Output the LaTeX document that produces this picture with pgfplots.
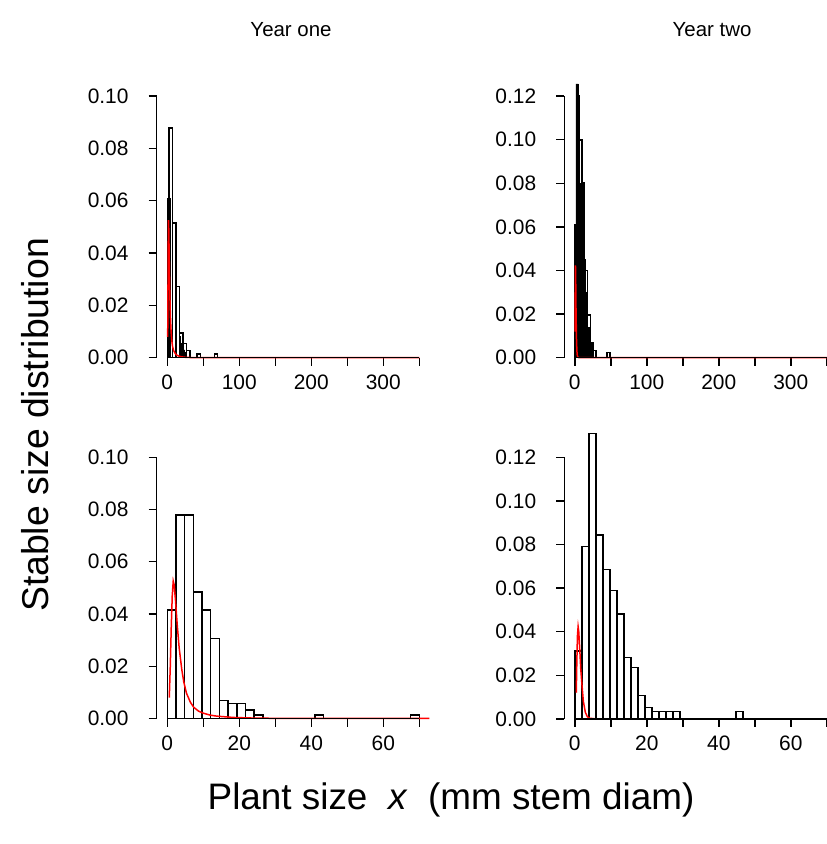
\documentclass[border=0pt]{standalone}
\usepackage{fontspec}
\setmainfont{Liberation Sans}
\usepackage{pgfplots}
\pgfplotsset{compat=1.18}
\usepackage{pgfplotstable}

% bottom-left histogram (Year one), 29 bins of width 70/29
\pgfplotstableread{
x y
0 0.0416
2.414 0.0779
4.828 0.0779
7.241 0.0485
9.655 0.0416
12.069 0.0307
14.483 0.0070
16.897 0.0057
19.310 0.0057
21.724 0.0033
24.138 0.0013
26.552 0
28.966 0
31.379 0
33.793 0
36.207 0
38.621 0
41.034 0.0013
43.448 0
45.862 0
48.276 0
50.690 0
53.103 0
55.517 0
57.931 0
60.345 0
62.759 0
65.172 0
67.586 0.0013
70.0 0
}\histBL

% bottom-right histogram (Year two), bins of width 70/36
\pgfplotstableread{
x y
0 0.0311
1.944 0.079
3.889 0.131
5.833 0.0843
7.778 0.0684
9.722 0.0588
11.667 0.0482
13.611 0.0281
15.556 0.0235
17.5 0.0106
19.444 0.0053
21.389 0.0033
23.333 0.0033
25.278 0.0033
27.222 0.0033
29.167 0
31.111 0
33.056 0
35.0 0
36.944 0
38.889 0
40.833 0
42.778 0
44.722 0.0033
46.667 0
}\histBR

% top-left coarse histogram
\pgfplotstableread{
x y
0 0.05
2.414 0.0877
7.241 0.0514
12.069 0.0271
16.897 0.0095
21.724 0.0055
26.552 0.0027
31.379 0
36.207 0
41.034 0.0014
45.862 0
50.690 0
55.517 0
60.345 0
65.172 0.0014
70.0 0
}\histTL

% top-left dense (black) part
\pgfplotstableread{
x y
0 0.061
4.6 0
16.7 0.008
18.5 0
19.7 0.0055
21.5 0
22.5 0.003
24.3 0
24.8 0.002
26.1 0
}\blackTL

% top-right coarse histogram
\pgfplotstableread{
x y
0 0.061
1.944 0.12
5.833 0.0998
9.722 0.0802
13.611 0.040
17.5 0.0196
21.389 0.0069
25.278 0.0032
29.167 0
33.056 0
36.944 0
40.833 0
44.722 0.0023
48.611 0
}\histTR

% top-right dense (black) part
\pgfplotstableread{
x y
0 0.061
1.65 0.1255
4.86 0.07
6.69 0.080
12.19 0.045
14.94 0.03
17.42 0.014
20.17 0.0067
23.83 0.003
25.67 0
}\blackTR

\pgfplotsset{
  rpanel/.style={
    scale only axis, clip=false,
    axis lines*=left, axis line style={draw=none},
    tick align=outside, major tick length=8bp,
    tick style={black, line width=1.4bp},
    minor tick num=0,
    ymin=0,
    scaled y ticks=false, scaled x ticks=false,
    ticklabel style={font=\fontsize{21}{25}\selectfont, inner sep=0pt},
    /pgf/number format/assume math mode=true,
    y tick label style={/pgf/number format/fixed, /pgf/number format/fixed zerofill, /pgf/number format/precision=2, xshift=-20bp},
    x tick label style={yshift=-9bp},
  },
  toprow/.style={xtick={0,50,...,350}, xticklabels={0,,100,,200,,300,}},
  botrow/.style={xtick={0,10,...,70}, xticklabels={0,,20,,40,,60,}},
  hbar/.style={ybar interval, draw=black, fill=none, line width=1.4bp},
  bbar/.style={ybar interval, draw=black, fill=black, line width=0.6bp},
  redc/.style={red, line width=1.5bp},
}
\tikzset{axl/.style={line width=1.4bp}}

\begin{document}
\begin{tikzpicture}
\path[use as bounding box] (0,0) rectangle (827bp,844bp);

% ---------- top-left ----------
\begin{axis}[rpanel, toprow, at={(156.7bp,486.3bp)}, anchor=south west,
  width=262.6bp, height=261.7bp, xmin=-14.72, xmax=350, ymax=0.10,
  ytick={0,0.02,0.04,0.06,0.08,0.10}]
  \addplot[bbar] table {\blackTL};
  \addplot[hbar] table {\histTL};
  \addplot[redc] coordinates {(0.55,0.008)(0.83,0.020)(1.1,0.035)(1.375,0.047)(1.65,0.0526)(1.925,0.051)(2.29,0.045)(2.75,0.036)(3.3,0.027)(4.03,0.0187)(4.58,0.014)(5.32,0.0097)(6.42,0.0062)(7.33,0.0043)(8.7,0.0028)(10.1,0.002)(11.9,0.0013)(13.75,0.0009)(18.3,0.0004)(22.9,0.0002)(27.5,0.0001)(36.7,0.00003)(70,0)(350,0)};
  \draw[axl] (axis cs:0,0) -- (axis cs:350,0);
  \draw[axl] (axis cs:-14.72,0) -- (axis cs:-14.72,0.10);
\end{axis}

% ---------- top-right ----------
\begin{axis}[rpanel, toprow, at={(564.4bp,486.3bp)}, anchor=south west,
  width=262.4bp, height=261.7bp, xmin=-14.44, xmax=350, ymax=0.12,
  ytick={0,0.02,0.04,0.06,0.08,0.10,0.12}]
  \addplot[bbar] table {\blackTR};
  \addplot[hbar] table {\histTR};
  \addplot[redc] coordinates {(0.41,0.012)(0.55,0.025)(0.73,0.038)(0.92,0.0423)(1.1,0.040)(1.375,0.032)(1.65,0.023)(2.02,0.015)(2.38,0.008)(2.93,0.003)(3.48,0.001)(4.13,0.0003)(5.5,0.00005)(70,0)(350,0)};
  \draw[axl] (axis cs:0,0) -- (axis cs:350,0);
  \draw[axl] (axis cs:-14.44,0) -- (axis cs:-14.44,0.12);
\end{axis}

% ---------- bottom-left ----------
\begin{axis}[rpanel, botrow, at={(156.7bp,125.5bp)}, anchor=south west,
  width=262.6bp, height=261.2bp, xmin=-2.944, xmax=70, ymax=0.10,
  ytick={0,0.02,0.04,0.06,0.08,0.10}]
  \addplot[hbar] table {\histBL};
  \addplot[redc] coordinates {(0.55,0.008)(0.83,0.020)(1.1,0.035)(1.375,0.047)(1.65,0.0526)(1.925,0.051)(2.29,0.045)(2.75,0.036)(3.3,0.027)(4.03,0.0187)(4.58,0.014)(5.32,0.0097)(6.42,0.0062)(7.33,0.0043)(8.7,0.0028)(10.1,0.002)(11.9,0.0013)(13.75,0.0009)(18.3,0.0004)(22.9,0.0002)(27.5,0.0001)(36.7,0.00003)(72.8,0)};
  \draw[axl] (axis cs:0,0) -- (axis cs:70,0);
  \draw[axl] (axis cs:-2.944,0) -- (axis cs:-2.944,0.10);
\end{axis}

% ---------- bottom-right ----------
\begin{axis}[rpanel, botrow, at={(564.4bp,125.1bp)}, anchor=south west,
  width=262.4bp, height=261.6bp, xmin=-2.889, xmax=70, ymax=0.12,
  ytick={0,0.02,0.04,0.06,0.08,0.10,0.12}]
  \addplot[hbar] table {\histBR};
  \addplot[redc] coordinates {(0.41,0.012)(0.55,0.025)(0.73,0.038)(0.92,0.0423)(1.1,0.040)(1.375,0.032)(1.65,0.023)(2.02,0.015)(2.38,0.008)(2.93,0.003)(3.48,0.001)(4.13,0.0003)(5.5,0.00005)(72.8,0)};
  \draw[axl] (axis cs:0,0) -- (axis cs:70,0);
  \draw[axl] (axis cs:-2.889,0) -- (axis cs:-2.889,0.12);
\end{axis}

% titles and labels
\node[font=\fontsize{20.5}{24}\selectfont] at (291bp,814bp) {Year one};
\node[font=\fontsize{20.5}{24}\selectfont] at (712bp,814bp) {Year two};
\node[font=\fontsize{37}{44}\selectfont] at (451bp,44bp) {Plant size\hspace{0.28em} \textit{x}\hspace{0.28em} (mm stem diam)};
\node[font=\fontsize{37.5}{44}\selectfont, rotate=90] at (35bp,419bp) {Stable size distribution};
\end{tikzpicture}
\end{document}
